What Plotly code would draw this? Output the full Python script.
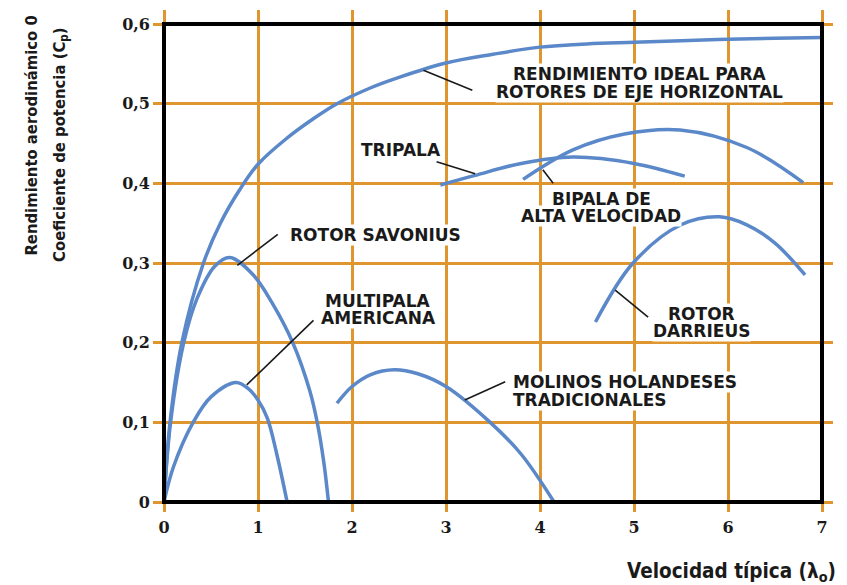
import plotly.graph_objects as go

# ---- data ----
ideal_x = [0, 0.064, 0.19, 0.42, 0.6, 0.8, 1.0, 1.3, 1.6, 1.84, 2.2, 2.5, 3.0, 3.5, 4.0, 4.5, 5.0, 5.5, 6.0, 6.5, 7.0]
ideal_y = [0, 0.10, 0.20, 0.30, 0.35, 0.391, 0.424, 0.456, 0.482, 0.50, 0.52, 0.533, 0.551, 0.562, 0.571, 0.575, 0.577, 0.579, 0.581, 0.582, 0.583]

savonius_x = [0, 0.07, 0.21, 0.35, 0.54, 0.7, 0.95, 1.15, 1.37, 1.55, 1.63, 1.7, 1.75]
savonius_y = [0, 0.10, 0.20, 0.255, 0.296, 0.307, 0.285, 0.25, 0.20, 0.14, 0.10, 0.05, 0]

multipala_x = [0, 0.1, 0.31, 0.5, 0.766, 0.9, 1.0, 1.1, 1.2, 1.31]
multipala_y = [0, 0.044, 0.10, 0.132, 0.15, 0.142, 0.128, 0.105, 0.06, 0]

holandes_x = [1.84, 2.0, 2.2, 2.45, 2.7, 3.0, 3.47, 3.8, 4.15]
holandes_y = [0.124, 0.145, 0.16, 0.166, 0.161, 0.145, 0.10, 0.06, 0]

tripala_x = [2.94, 3.31, 3.8, 4.35, 5.0, 5.54]
tripala_y = [0.398, 0.41, 0.425, 0.433, 0.425, 0.409]

bipala_x = [3.82, 4.35, 4.9, 5.49, 6.2, 6.8]
bipala_y = [0.405, 0.442, 0.462, 0.467, 0.445, 0.401]

darrieus_x = [4.59, 4.99, 5.5, 5.91, 6.2, 6.5, 6.82]
darrieus_y = [0.226, 0.30, 0.348, 0.358, 0.348, 0.325, 0.285]

x_ticks = [0, 1, 2, 3, 4, 5, 6, 7]
y_ticks = [0, 0.1, 0.2, 0.3, 0.4, 0.5, 0.6]
y_tick_labels = ["0", "0,1", "0,2", "0,3", "0,4", "0,5", "0,6"]

# label lines, block centre (x, Cp), alignment, leader line (curve point -> label)
labels = [
    (["RENDIMIENTO IDEAL PARA", "ROTORES DE EJE HORIZONTAL"], 5.06, 0.527, "center", (2.76, 0.542, 3.28, 0.517)),
    (["TRIPALA"], 2.52, 0.443, "center", (2.90, 0.427, 3.31, 0.412)),
    (["BIPALA DE", "ALTA VELOCIDAD"], 4.65, 0.371, "center", (4.03, 0.417, 4.14, 0.400)),
    (["ROTOR SAVONIUS"], 2.245, 0.336, "center", (0.78, 0.297, 1.21, 0.336)),
    (["MULTIPALA", "AMERICANA"], 2.28, 0.243, "center", (0.88, 0.147, 1.59, 0.228)),
    (["MOLINOS HOLANDESES", "TRADICIONALES"], 3.70, 0.1405, "left", (3.20, 0.128, 3.63, 0.151)),
    (["ROTOR", "DARRIEUS"], 5.72, 0.2265, "center", (4.80, 0.266, 5.15, 0.232)),
]

BLUE = "#5B88C9"
ORANGE = "#E0962F"
LABEL_FONT = dict(family="DejaVu Sans", size=17, color="#1a1a1a", weight="bold")
LINE_STEP = 17.5

fig = go.Figure()
for xs, ys in [(ideal_x, ideal_y), (savonius_x, savonius_y), (multipala_x, multipala_y),
               (holandes_x, holandes_y), (tripala_x, tripala_y), (bipala_x, bipala_y),
               (darrieus_x, darrieus_y)]:
    fig.add_trace(go.Scatter(x=xs, y=ys, mode="lines",
                             line=dict(color=BLUE, width=3.5, shape="spline", smoothing=1.0),
                             showlegend=False, hoverinfo="skip"))

shapes = [dict(type="rect", xref="x", yref="y", x0=0, y0=0, x1=7, y1=0.6,
               line=dict(color="black", width=4), layer="above")]
annotations = []
for lines, ax, ay, align, (lx0, ly0, lx1, ly1) in labels:
    shapes.append(dict(type="line", xref="x", yref="y", x0=lx0, y0=ly0, x1=lx1, y1=ly1,
                       line=dict(color="#1a1a1a", width=1.6), layer="above"))
    n = len(lines)
    for i, line in enumerate(lines):
        annotations.append(dict(x=ax, y=ay, xref="x", yref="y", text=line,
                                yshift=((n - 1) / 2 - i) * LINE_STEP - 1,
                                showarrow=False, xanchor=align, yanchor="middle", align=align,
                                font=LABEL_FONT, bgcolor="white", borderpad=0))

TITLE_FONT = dict(family="DejaVu Sans Condensed, DejaVu Sans", size=16.5, color="#1a1a1a", weight="bold")
annotations.append(dict(x=-0.18, y=0.749, xref="paper", yref="paper",
                        text="Rendimiento aerodinámico 0", textangle=-90,
                        showarrow=False, xanchor="center", yanchor="middle", font=TITLE_FONT))
annotations.append(dict(x=-0.137, y=0.731, xref="paper", yref="paper",
                        text="Coeficiente de potencia (C<sub>p</sub>)", textangle=-90,
                        showarrow=False, xanchor="center", yanchor="middle", font=TITLE_FONT))
annotations.append(dict(x=(625 - 153) / 680, y=(512 - 572) / 502, xref="paper", yref="paper",
                        text="Velocidad típica (λ<sub>o</sub>)",
                        showarrow=False, xanchor="left", yanchor="middle",
                        font=dict(family="DejaVu Sans Condensed, DejaVu Sans", size=20.5,
                                  color="#1a1a1a", weight="bold")))

TICK_FONT = dict(family="DejaVu Serif", size=16, color="#1a1a1a", weight="bold")
fig.update_layout(
    width=847, height=585,
    margin=dict(l=145, r=22, t=2, b=81),
    paper_bgcolor="white", plot_bgcolor="white",
    xaxis=dict(range=[-0.117, 7.117], tickvals=x_ticks, ticktext=[str(v) for v in x_ticks],
               showgrid=True, gridcolor=ORANGE, gridwidth=2.5, zeroline=False, showline=False,
               ticks="", tickfont=TICK_FONT, ticklabelstandoff=4),
    yaxis=dict(range=[-0.0125, 0.6176], tickvals=y_ticks, ticktext=y_tick_labels,
               showgrid=True, gridcolor=ORANGE, gridwidth=2.5, zeroline=False, showline=False,
               ticks="", tickfont=TICK_FONT, ticklabelstandoff=2),
    shapes=shapes, annotations=annotations,
)

fig.write_html("out.html")
